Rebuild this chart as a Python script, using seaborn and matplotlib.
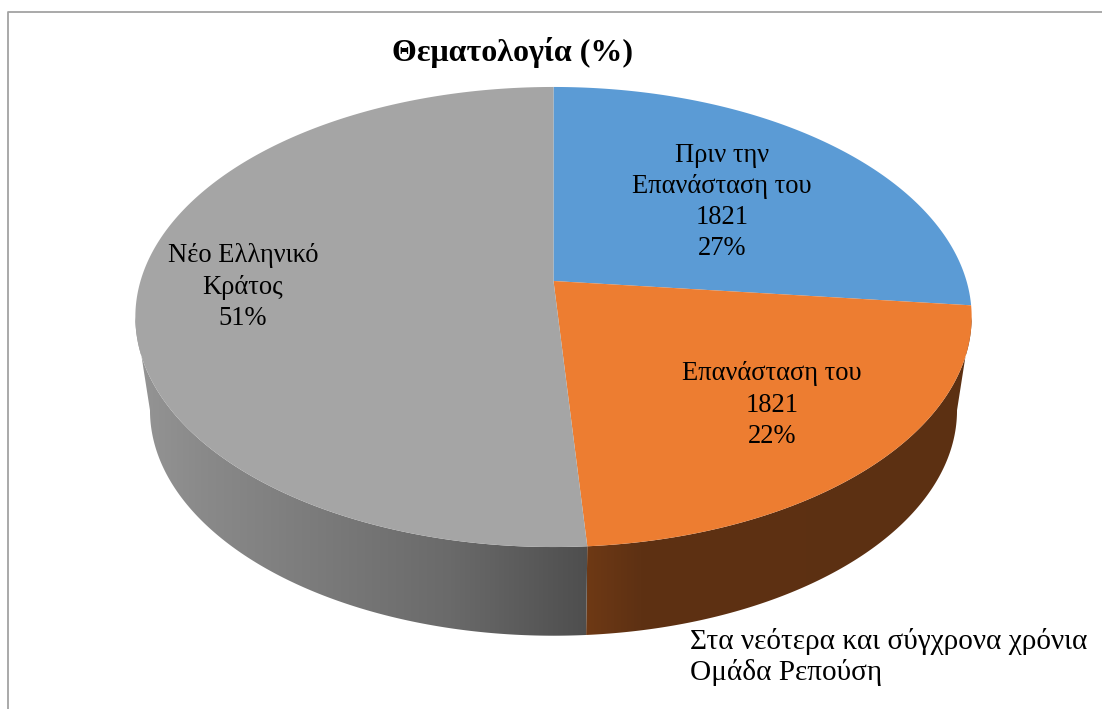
import numpy as np
import matplotlib
matplotlib.use('Agg')
import matplotlib.pyplot as plt
from matplotlib.patches import Polygon
import seaborn as sns

# values (labels show them rounded)
names = ['Πριν την\nΕπανάσταση του\n1821', 'Επανάσταση του\n1821', 'Νέο Ελληνικό\nΚράτος']
vals = [26.7, 22.2, 51.1]
colors = sns.color_palette(['#5B9BD5', '#ED7D31', '#A5A5A5'])
label_xy = [(722, 202), (772, 405), (243, 287)]
title = 'Θεματολογία (%)'
note = 'Στα νεότερα και σύγχρονα χρόνια\nΟμάδα Ρεπούση'

sns.set_theme(style='white')
plt.rcParams['font.family'] = ['Liberation Serif', 'DejaVu Serif']

# pie geometry in pixels, k is the perspective of the tilted disc
cx, cy = 553.5, 281
rx, ry, k = 413, 224.4, 0.1565
drop, shrink_x, shrink_y = 94, 0.965, 0.98


def project(ang, sx=1.0, sy=1.0, dy=0.0):
    # ang is clockwise from 12 o'clock
    u = np.sin(ang)
    v = np.cos(ang)
    w = 1 + k * v
    return cx + sx * rx * u / w, cy + dy - sy * ry * v / w


fig = plt.figure(figsize=(11.02, 7.09), dpi=100)
ax = fig.add_axes([0, 0, 1, 1])
ax.axis('off')

# chart frame, only top and left are in the picture
ax.plot([7.5, 7.5, 1102], [709, 11.5, 11.5], color='#a3a3a3', lw=1.3)

edges = np.cumsum([0] + vals) / 100 * 2 * np.pi
side = np.arccos(-k)  # where the rim turns away

# side wall: horizontal gradient clipped to the wall outline
px = np.arange(1102)
gray_x = [140, 200, 450, 587]
gray_v = [148, 138, 106, 78]
gray = np.interp(px, gray_x, gray_v) / 255
gray_img = np.stack([gray, gray, gray], axis=1)[None, :, :]
brown_x = [587, 640, 970]
brown_img = np.stack([np.interp(px, brown_x, [110, 94, 92]),
                      np.interp(px, brown_x, [57, 49, 48]),
                      np.interp(px, brown_x, [21, 19, 18])], axis=1)[None, :, :] / 255

walls = [(side, edges[2], brown_img), (edges[2], 2 * np.pi - side, gray_img)]
for a0, a1, img in walls:
    t = np.linspace(a0, a1, 400)
    xt, yt = project(t)
    xb, yb = project(t, shrink_x, shrink_y, drop)
    outline = Polygon(np.c_[np.r_[xt, xb[::-1]], np.r_[yt, yb[::-1]]], closed=True,
                      transform=ax.transData, fc='none', lw=0)
    ax.add_patch(outline)
    im = ax.imshow(img, extent=(0, 1102, 709, 0), aspect='auto', zorder=2)
    im.set_clip_path(outline)

# top of the pie
for i in range(len(vals)):
    t = np.linspace(edges[i], edges[i + 1], 300)
    x, y = project(t)
    ax.fill(np.r_[cx, x], np.r_[cy, y], color=colors[i], lw=0, zorder=3)

for name, val, (lx, ly) in zip(names, vals, label_xy):
    ax.text(lx, ly, f'{name}\n{round(val)}%', ha='center', va='center', fontsize=19.1,
            linespacing=1.32, color='black', zorder=4)

ax.text(512, 52, title, ha='center', va='center', fontsize=23, fontweight='bold', color='black')
ax.text(690, 657, note, ha='left', va='center', fontsize=21.1, linespacing=1.2, color='black')

ax.set_xlim(0, 1102)
ax.set_ylim(709, 0)

fig.savefig('out.png', dpi=100)
